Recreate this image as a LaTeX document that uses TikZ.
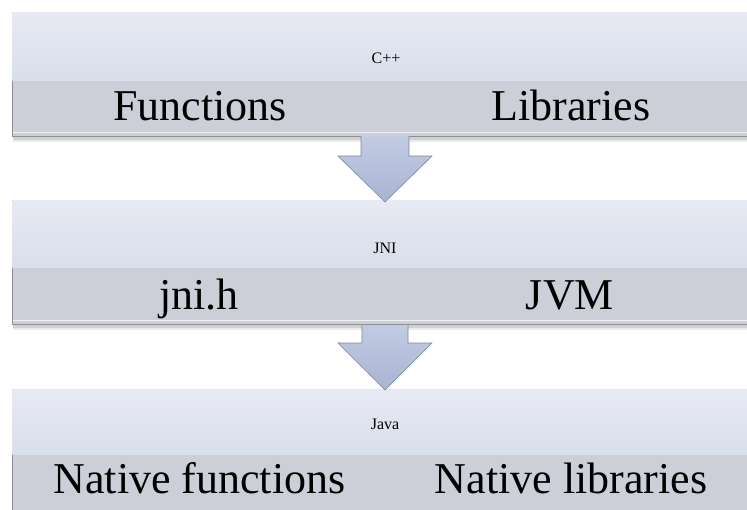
\documentclass[tikz,border=0pt]{standalone}
\usepackage{fontspec}
\setmainfont{Liberation Serif}
\usetikzlibrary{calc,shadings}
\definecolor{bandtop}{HTML}{E7EAF4}
\definecolor{bandbot}{HTML}{D9DEEB}
\definecolor{graypart}{HTML}{CDCFD8}
\definecolor{edgegray}{HTML}{8E9096}
\definecolor{arrtop}{HTML}{C3CBE3}
\definecolor{arrbot}{HTML}{A9B3D2}
\definecolor{arredge}{HTML}{7D879E}
\tikzset{
  layer/.style={draw=edgegray, line width=0.8pt, fill=graypart, rectangle,
     minimum width=735pt, minimum height=124pt, anchor=north west, inner sep=0pt},
  bigtext/.style={font=\fontsize{44}{50}\selectfont, anchor=base, inner sep=0pt},
  smalltext/.style={font=\fontsize{16}{19}\selectfont, anchor=base, inner sep=0pt},
  blockarrow/.style={draw=arredge, line width=0.6pt, top color=arrtop, bottom color=arrbot},
}
\begin{document}
\begin{tikzpicture}[x=1pt,y=-1pt]
\useasboundingbox (0,0) rectangle (747,509);
\clip (0,0) rectangle (747,509);
\fill[white] (0,0) rectangle (747,509);
% shadows
\foreach \t in {12,200,389}{
  \fill[black!18] (13,\t+124) rectangle (747,\t+128);
  \fill[black!8] (13,\t+128) rectangle (747,\t+130);
}
% layers
\node[layer] (L1) at (12,12) {};
\node[layer] (L2) at (12,200) {};
\node[layer, minimum height=140pt] (L3) at (12,389) {};
% light bands
\shade[top color=bandtop, bottom color=bandbot] ($(L1.north west)+(0.4,0.4)$) rectangle ($(L1.north east)+(-0.4,68)$);
\shade[top color=bandtop, bottom color=bandbot] ($(L2.north west)+(0.4,0.4)$) rectangle ($(L2.north east)+(-0.4,67)$);
\shade[top color=bandtop, bottom color=bandbot] ($(L3.north west)+(0.4,0.4)$) rectangle ($(L3.north east)+(-0.4,65)$);
% faint line near bottom of gray parts
\draw[white!70!graypart, line width=0.8pt] ($(L1.south west)+(1,-4)$) -- ($(L1.south east)+(-1,-4)$);
\draw[white!70!graypart, line width=0.8pt] ($(L2.south west)+(1,-4)$) -- ($(L2.south east)+(-1,-4)$);
% arrows
\coordinate (a1) at (385,136);
\coordinate (a2) at (385,325);
\draw[blockarrow] ($(a1)+(-24,0)$) -- ($(a1)+(-24,20)$) -- ($(a1)+(-47,20)$) -- (385,202)
   -- ($(a1)+(47,20)$) -- ($(a1)+(24,20)$) -- ($(a1)+(24,0)$);
\draw[blockarrow] ($(a2)+(-23,0)$) -- ($(a2)+(-23,18)$) -- ($(a2)+(-47,18)$) -- (385,390)
   -- ($(a2)+(47,18)$) -- ($(a2)+(23,18)$) -- ($(a2)+(23,0)$);
% texts
\node[smalltext] (t1) at (386,63) {C++};
\node[bigtext] (f1) at (200,120) {Functions};
\node[bigtext] (l1) at (571,120) {Libraries};
\node[smalltext] (t2) at (385,253) {JNI};
\node[bigtext] (j1) at (199,309) {jni.h};
\node[bigtext] (j2) at (570,309) {JVM};
\node[smalltext] (t3) at (385,429) {Java};
\node[bigtext] (n1) at (199.5,493) {Native functions};
\node[bigtext] (n2) at (571,493) {Native libraries};
\end{tikzpicture}
\end{document}
